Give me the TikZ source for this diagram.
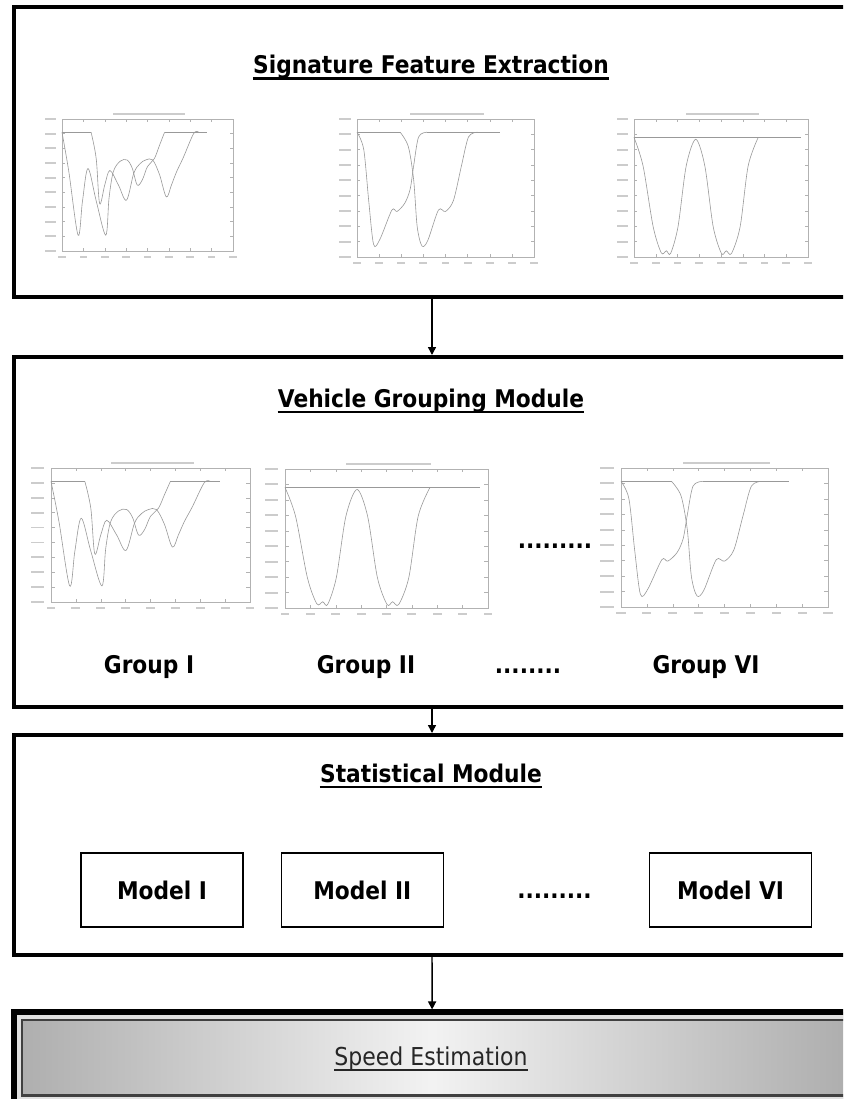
\documentclass[tikz,border=0pt]{standalone}
\usepackage{fontspec}
\usepackage{graphicx}
\setmainfont{DejaVu Sans}
\usetikzlibrary{arrows.meta}
\newcommand\tx[1]{\scalebox{1}[1.12]{#1}}
\newcommand\plotframe{%
  \draw[axisline] (0,0) rectangle (1,1);
  \foreach \i in {0,1,...,8}{%
    \draw[axisline] (\i/8,1) -- (\i/8,0.975);
    \draw[axisline] (\i/8,0) -- (\i/8,0.025);
    \fill[ticklbl] (\i/8-0.022,1.035) rectangle (\i/8+0.022,1.05);
  }
  \foreach \j in {0,1,...,9}{%
    \draw[axisline] (0,\j/9) -- (0.018,\j/9);
    \draw[axisline] (1,\j/9) -- (0.982,\j/9);
    \fill[ticklbl] (-0.1,\j/9-0.007) rectangle (-0.035,\j/9+0.007);
  }
  \fill[ticklbl] (0.3,-0.045) rectangle (0.72,-0.028);
}
\newcommand\curvesA{%
  \draw[curve] plot[smooth,tension=0.55] coordinates {(0,.1) (.04,.4) (.094,.88) (.12,.62) (.152,.375) (.2,.62) (.256,.88) (.275,.6) (.3,.4) (.34,.32) (.38,.31) (.41,.37) (.44,.5) (.47,.46) (.5,.36) (.54,.3) (.57,.2) (.6,.1)};
  \draw[curve] (.6,.1) -- (.85,.1);
  \draw[curve] (0,.1) -- (.17,.1);
  \draw[curve] plot[smooth,tension=0.55] coordinates {(.17,.1) (.2,.3) (.22,.64) (.25,.5) (.28,.39) (.33,.5) (.377,.615) (.42,.41) (.455,.34) (.49,.31) (.53,.31) (.57,.42) (.61,.59) (.64,.5) (.67,.4) (.71,.29) (.77,.11) (.8,.1)};
}
\newcommand\curvesB{%
  \draw[curve] plot[smooth,tension=0.5] coordinates {(0,.096) (.038,.22) (.066,.59) (.094,.91) (.13,.87) (.197,.66) (.226,.67) (.27,.61) (.3,.51) (.32,.34) (.348,.13) (.395,.096)};
  \draw[curve] (.395,.096) -- (.81,.096);
  \draw[curve] (0,.096) -- (.244,.096);
  \draw[curve] plot[smooth,tension=0.5] coordinates {(.244,.096) (.29,.2) (.32,.44) (.34,.78) (.367,.92) (.4,.88) (.46,.66) (.5,.67) (.545,.59) (.59,.34) (.63,.13) (.68,.096)};
}
\newcommand\curvesC{%
  \draw[curve] (0,.133) -- (.96,.133);
  \draw[curve] plot[smooth,tension=0.5] coordinates {(0,.133) (.052,.34) (.11,.78) (.157,.97) (.186,.955) (.21,.975) (.253,.78) (.3,.34) (.355,.147) (.407,.34) (.455,.78) (.503,.975) (.53,.955) (.56,.975) (.61,.78) (.656,.34) (.714,.133)};
}
\newcommand\plotat[5]{%
  \begin{scope}[shift={(#1,#2)}, x={(#3*0.75pt,0pt)}, y={(0pt,-#4*0.75pt)}]
    \plotframe #5
  \end{scope}}
\begin{document}
\begin{tikzpicture}[x=0.75pt,y=-0.75pt,
  module/.style={draw=black, line width=3pt, minimum width={836*0.75pt}, inner sep=0pt},
  title/.style={inner sep=0pt, anchor=base, font=\fontsize{16.3pt}{19pt}\selectfont\bfseries},
  lbl/.style={inner sep=0pt, anchor=base, font=\fontsize{16.3pt}{19pt}\selectfont\bfseries},
  uline/.style={line width=1.6pt},
  arr/.style={line width=1.1pt, -{Triangle[length=6pt,width=6pt]}},
  modelbox/.style={draw=black, line width=0.9pt, minimum width={162*0.75pt}, minimum height={74*0.75pt}, inner sep=0pt, font=\fontsize{16.3pt}{19pt}\selectfont\bfseries},
  axisline/.style={draw=black!30, line width=0.35pt},
  curve/.style={draw=black!40, line width=0.45pt},
  ticklbl/.style={fill=black!20},
  speedbox/.style={draw=black, line width=4.1pt, inner sep=0pt, left color=black!32, right color=black!32, middle color=black!5}
]
\fill[white] (0,0) rectangle (843,1099);
\useasboundingbox (0,0) rectangle (843,1099);
\clip (0,0) rectangle (843,1099);

% module frames
\node[module, minimum height={290*0.75pt}] (sfe) at (432,152) {};
\node[module, minimum height={349.5*0.75pt}] (vgm) at (432,531.75) {};
\node[module, minimum height={220*0.75pt}] (stm) at (432,845) {};
\node[speedbox, minimum width={835.8*0.75pt}, minimum height={91.8*0.75pt}] (spd) at (432.1,1058.1) {};
\draw[black!12, line width=2.85pt] (18.6,1017) rectangle (870,1098.8);
\draw[black!75, line width=1.9pt] (21.9,1020) rectangle (870,1095.5);

% connectors
\draw[arr] (sfe.south) -- (vgm.north);
\draw[arr] (vgm.south) -- (stm.north);
\draw[arr] (stm.south) -- (spd.north);

% titles
\node[title] (t1) at (431,74) {\tx{Signature Feature Extraction}};
\draw[uline] ([yshift=-3.4pt]t1.base west) -- ([yshift=-3.4pt]t1.base east);
\node[title] (t2) at (431,407) {\tx{Vehicle Grouping Module}};
\draw[uline] ([yshift=-3.6pt]t2.base west) -- ([yshift=-3.6pt]t2.base east);
\node[title] (t3) at (431,782.5) {\tx{Statistical Module}};
\draw[uline] ([yshift=-3.2pt]t3.base west) -- ([yshift=-3.2pt]t3.base east);
\node[title, font=\fontsize{16.5pt}{19pt}\selectfont, text=black!85] (t4) at (431,1065.5) {\tx{Speed Estimation}};
\draw[uline, line width=1.3pt, black!85] ([yshift=-3.4pt]t4.base west) -- ([yshift=-3.4pt]t4.base east);

% plots in signature box
\plotat{62}{119}{171}{132}{\curvesA}
\plotat{357}{119}{177}{138}{\curvesB}
\plotat{634}{119}{174}{138}{\curvesC}

% plots in grouping box
\plotat{51}{468}{199}{134}{\curvesA}
\plotat{285}{469}{203}{139}{\curvesC}
\plotat{621}{468}{207}{139}{\curvesB}
\node[lbl] (pd) at (555,548) {\tx{.........}};

% group labels
\node[lbl] (g1) at (149,673) {\tx{Group I}};
\node[lbl] (g2) at (366,673) {\tx{Group II}};
\node[lbl] (gd) at (528,673) {\tx{........}};
\node[lbl] (g6) at (706,673) {\tx{Group VI}};

% models
\node[modelbox] (m1) at (162,890) {\tx{Model I}};
\node[modelbox] (m2) at (362.3,890) {\tx{Model II}};
\node[lbl] (md) at (554.5,898) {\tx{.........}};
\node[modelbox] (m6) at (730.6,890) {\tx{Model VI}};
\end{tikzpicture}
\end{document}
